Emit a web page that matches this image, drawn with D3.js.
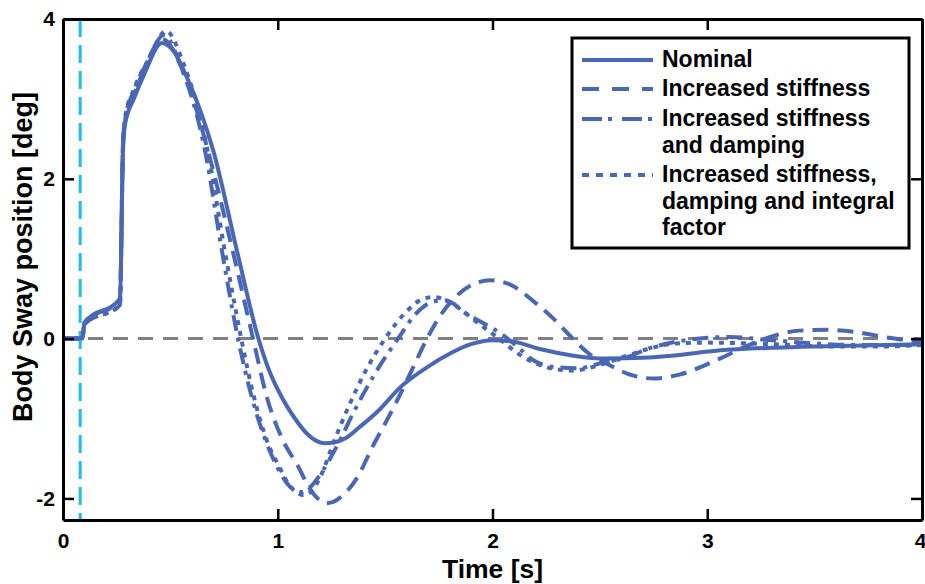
<!DOCTYPE html>
<html><head><meta charset="utf-8">
<script src="https://cdn.jsdelivr.net/npm/d3@7"></script>
<style>
body{margin:0;background:#fff}
text{font-family:"Liberation Sans",Arial,Helvetica,sans-serif;font-weight:bold;fill:#000}
</style>
</head><body>
<svg id="c" width="925" height="584"></svg>
<script>
// ---------- data ----------
const xTicks = [0, 1, 2, 3, 4];
const yTicks = [-2, 0, 2, 4];
const xLabel = "Time [s]";
const yLabel = "Body Sway position [deg]";
const perturbationTime = 0.08;
const legendLabels = [
  ["Nominal"],
  ["Increased stiffness"],
  ["Increased stiffness", "and damping"],
  ["Increased stiffness,", "damping and integral", "factor"]
];
const nominal = [[0,0],[0.09,0],[0.1,0.2],[0.265,0.5],[0.28,2.4],[0.29,2.7],[0.33,3.0],[0.38,3.32],[0.46,3.70],
  [0.52,3.58],[0.58,3.25],[0.64,2.85],[0.70,2.35],[0.81,1.1],[0.91,0],[0.96,-0.4],[1.02,-0.74],[1.08,-1.0],[1.14,-1.2],
  [1.18,-1.28],[1.22,-1.31],[1.26,-1.3],[1.32,-1.24],[1.38,-1.11],[1.47,-0.9],[1.57,-0.61],[1.7,-0.35],[1.8,-0.19],[1.9,-0.07],[2.0,-0.02],
  [2.1,-0.04],[2.22,-0.13],[2.37,-0.21],[2.53,-0.25],[2.7,-0.24],[2.85,-0.21],[3.05,-0.15],[3.35,-0.11],[3.66,-0.09],[4.0,-0.07]];
const stiffness = [[0,0],[0.09,0],[0.1,0.2],[0.265,0.48],[0.28,2.45],[0.29,2.72],[0.33,3.05],[0.38,3.38],[0.46,3.75],
  [0.58,3.2],[0.675,2.35],[0.79,1.1],[0.885,0],[0.95,-0.74],[1.02,-1.25],[1.095,-1.6],[1.15,-1.88],[1.19,-2.01],[1.22,-2.06],
  [1.25,-2.05],[1.29,-1.99],[1.37,-1.74],[1.44,-1.36],[1.54,-0.86],[1.62,-0.42],[1.695,0],[1.76,0.3],[1.82,0.5],[1.91,0.68],
  [1.99,0.73],[2.08,0.68],[2.19,0.47],[2.28,0.26],[2.37,0.01],[2.45,-0.19],[2.53,-0.31],[2.63,-0.44],[2.75,-0.5],
  [2.87,-0.45],[3.05,-0.26],[3.17,-0.11],[3.28,0.01],[3.43,0.1],[3.56,0.11],[3.7,0.08],[3.82,0.02],[4.0,-0.04]];
const stiffDamp = [[0,0],[0.09,0],[0.1,0.18],[0.265,0.42],[0.28,2.5],[0.29,2.75],[0.33,3.1],[0.39,3.45],[0.47,3.8],
  [0.55,3.4],[0.66,2.37],[0.74,1.1],[0.815,0],[0.88,-0.74],[0.94,-1.25],[1.0,-1.62],[1.04,-1.8],[1.08,-1.9],
  [1.11,-1.92],[1.15,-1.86],[1.21,-1.65],[1.29,-1.27],[1.35,-0.94],[1.45,-0.45],[1.56,0],[1.65,0.33],[1.72,0.46],[1.78,0.48],
  [1.88,0.31],[1.96,0.19],[2.04,0.06],[2.12,-0.11],[2.19,-0.27],[2.30,-0.36],[2.40,-0.37],[2.50,-0.31],[2.63,-0.23],
  [2.72,-0.13],[2.8,-0.07],[2.9,-0.02],[3.0,0.01],[3.1,0.02],[3.3,-0.02],[3.5,-0.06],[3.7,-0.08],[4.0,-0.08]];
const stiffDampInt = [[0,0],[0.09,0],[0.1,0.18],[0.265,0.42],[0.28,2.5],[0.29,2.78],[0.33,3.12],[0.4,3.5],[0.48,3.85],
  [0.56,3.45],[0.67,2.4],[0.75,1.15],[0.83,0],[0.89,-0.74],[0.95,-1.28],[1.01,-1.62],[1.05,-1.82],[1.09,-1.93],
  [1.12,-1.96],[1.16,-1.9],[1.2,-1.72],[1.26,-1.3],[1.33,-0.85],[1.41,-0.4],[1.5,0],[1.6,0.34],[1.68,0.5],[1.73,0.52],
  [1.82,0.42],[1.93,0.2],[2.02,0.02],[2.15,-0.24],[2.27,-0.37],[2.37,-0.40],[2.5,-0.33],[2.62,-0.22],[2.75,-0.11],
  [2.85,-0.06],[3.0,-0.05],[3.3,-0.07],[3.6,-0.1],[3.8,-0.1],[4.0,-0.08]];
const seriesData = [nominal, stiffness, stiffDamp, stiffDampInt];

// ---------- styles ----------
const blue = "#4a67b5";
const dashes = [null, "16,9", "16,7,4,7", "5,6"];
const legendDashes = [null, "17,13", "20,6,4,10", "7,7"];

// ---------- layout ----------
const svg = d3.select("#c");
const L = 63, R = 922, T = 19, B = 520;
const x = d3.scaleLinear().domain([0, 4]).range([L, R]);
const y = d3.scaleLinear().domain([-2.27, 4]).range([B, T]);

svg.append("defs").append("clipPath").attr("id", "clip")
  .append("rect").attr("x", L).attr("y", T).attr("width", R - L).attr("height", B - T);

const plot = svg.append("g").attr("clip-path", "url(#clip)");

// zero reference line
plot.append("line")
  .attr("x1", x(0)).attr("x2", x(4)).attr("y1", y(0)).attr("y2", y(0))
  .attr("stroke", "#808080").attr("stroke-width", 3).attr("stroke-dasharray", "15,10");

// perturbation onset line
plot.append("line")
  .attr("x1", x(perturbationTime)).attr("x2", x(perturbationTime)).attr("y1", T).attr("y2", B)
  .attr("stroke", "#1cbcef").attr("stroke-width", 3).attr("stroke-dasharray", "18,8");

const line = d3.line().x(d => x(d[0])).y(d => y(d[1])).curve(d3.curveMonotoneX);
seriesData.forEach((s, i) => {
  plot.append("path").datum(s)
    .attr("d", line)
    .attr("fill", "none")
    .attr("stroke", blue)
    .attr("stroke-width", 4)
    .attr("stroke-dasharray", dashes[i]);
});

// ---------- axes ----------
const fmt = d => String(d);
function styleAxis(g) {
  g.select(".domain").attr("stroke", "#000").attr("stroke-width", 3);
  g.selectAll(".tick line").attr("stroke", "#000").attr("stroke-width", 2.5);
  g.selectAll(".tick text").attr("font-size", 21).attr("font-weight", "bold")
    .attr("font-family", '"Liberation Sans",Arial,sans-serif').attr("fill", "#000");
}
const gx = svg.append("g").attr("transform", `translate(0,${B})`)
  .call(d3.axisBottom(x).tickValues(xTicks).tickSizeInner(-11).tickSizeOuter(0).tickPadding(13).tickFormat(fmt))
  .call(styleAxis);
gx.selectAll(".tick text").filter(d => d === 4).attr("text-anchor", "end").attr("dx", 4);
svg.append("g").attr("transform", `translate(0,${T})`)
  .call(d3.axisTop(x).tickValues(xTicks).tickSizeInner(-11).tickSizeOuter(0).tickFormat(""))
  .call(styleAxis);
svg.append("g").attr("transform", `translate(${L},0)`)
  .call(d3.axisLeft(y).tickValues(yTicks).tickSizeInner(-11).tickSizeOuter(0).tickPadding(8).tickFormat(fmt))
  .call(styleAxis);
svg.append("g").attr("transform", `translate(${R},0)`)
  .call(d3.axisRight(y).tickValues(yTicks).tickSizeInner(-11).tickSizeOuter(0).tickFormat(""))
  .call(styleAxis);

// axis titles
svg.append("text").attr("x", x(2)).attr("y", 578).attr("text-anchor", "middle")
  .attr("font-size", 26.5).text(xLabel);
svg.append("text").attr("transform", `translate(32,257) rotate(-90)`).attr("text-anchor", "middle")
  .attr("font-size", 27).text(yLabel);

// ---------- legend ----------
const lg = svg.append("g");
lg.append("rect").attr("x", 572).attr("y", 38).attr("width", 337).attr("height", 210)
  .attr("fill", "#fff").attr("stroke", "#000").attr("stroke-width", 3);
const rowY = [67, 96, 126, 182];
const lineH = 26.5;
legendLabels.forEach((lines, i) => {
  lg.append("line").attr("x1", 582).attr("x2", 653)
    .attr("y1", rowY[i] - 7).attr("y2", rowY[i] - 7)
    .attr("stroke", blue).attr("stroke-width", 4)
    .attr("stroke-dasharray", legendDashes[i]);
  lines.forEach((t, j) => {
    lg.append("text").attr("x", 662).attr("y", rowY[i] + j * lineH)
      .attr("font-size", 23).text(t);
  });
});
</script>
</body></html>
